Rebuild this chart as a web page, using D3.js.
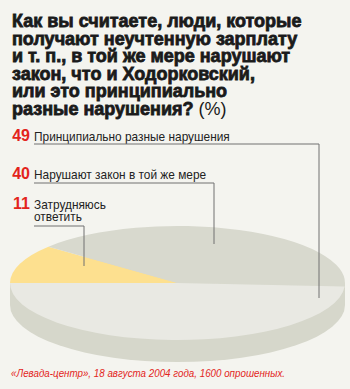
<!DOCTYPE html>
<html><head><meta charset="utf-8">
<script src="https://cdn.jsdelivr.net/npm/d3@7"></script>
<style>
html,body{margin:0;padding:0;background:#f4f4ef;}
svg{display:block;}
</style></head>
<body>
<svg id="c" width="350" height="389"></svg>
<script>
// ---- data ----
const titleLines = ["Как вы считаете, люди, которые","получают неучтенную зарплату","и т. п., в той же мере нарушают","закон, что и Ходорковский,","или это принципиально","разные нарушения?"];
const titleUnit = "(%)";
const categories = ["Принципиально разные нарушения","Нарушают закон в той же мере","Затрудняюсь|ответить"];
const values = [49, 40, 11];
const sliceColors = ["#e9e9e3", "#d8d9ce", "#fde08f"];
const source = "«Левада-центр», 18 августа 2004 года, 1600 опрошенных.";

// ---- layout ----
const svg = d3.select("#c");
svg.append("rect").attr("width",350).attr("height",389).attr("fill","#f4f4ef");

const cx = 177.5, cy = 283, rx = 167.5, ry = 57, depth = 22;

// title
const tt = svg.append("g");
titleLines.forEach((l,i)=>{
  const t = tt.append("text").attr("x",12).attr("y",27+i*17.6)
    .attr("font-family","'Liberation Sans', Arial, sans-serif").attr("font-weight","bold")
    .attr("font-size",18).attr("fill","#1a1a1a").attr("stroke","#1a1a1a").attr("stroke-width",0.8)
    .text(l);
  if(i===titleLines.length-1){
    t.append("tspan").attr("font-weight","normal").attr("stroke","none").text(" "+titleUnit);
  }
});

// pie: side wall
svg.append("ellipse").attr("cx",cx).attr("cy",cy+depth).attr("rx",rx).attr("ry",ry).attr("fill","#d6d7cb");
svg.append("rect").attr("x",cx-rx).attr("y",cy).attr("width",2*rx).attr("height",depth).attr("fill","#d6d7cb");

// top face slices
const pie = d3.pie().sort(null).startAngle(-Math.PI/2).endAngle(3*Math.PI/2);
const order = [2,1,0];
const arcs = pie(order.map(i=>values[i]));
const arc = d3.arc().innerRadius(0).outerRadius(rx);
const face = svg.append("g").attr("transform",`translate(${cx},${cy}) scale(1,${ry/rx})`);
face.selectAll("path").data(arcs).join("path")
  .attr("d",arc).attr("fill",(d,j)=>sliceColors[order[j]]);

// labels and leader lines
const labelY = [141, 179, 209];
const lineY = [144, 183, 226];
const lineX = [319, 214, 84];
const anchorY = [298, 244, 266];
const lab = svg.append("g");
categories.forEach((c,i)=>{
  lab.append("text").attr("x",30).attr("y",labelY[i]).attr("text-anchor","end")
    .attr("font-family","'Liberation Sans', Arial, sans-serif").attr("font-weight","bold")
    .attr("font-size",16).attr("fill","#e3241b").text(values[i]);
  const t = lab.append("text")
    .attr("transform",`translate(34,${labelY[i]}) scale(0.95,1)`)
    .attr("font-family","'Liberation Sans', Arial, sans-serif")
    .attr("font-size",12.5).attr("fill","#222");
  c.split("|").forEach((p,k)=>{
    t.append("tspan").attr("x",0).attr("dy",k?11.7:0).text(p);
  });
  lab.append("path")
    .attr("d",`M34,${lineY[i]}H${lineX[i]}V${anchorY[i]}`)
    .attr("fill","none").attr("stroke","#707070").attr("stroke-width",1);
});

// source
svg.append("text").attr("transform","translate(11,377) scale(0.89,1)")
  .attr("font-family","'Liberation Sans', Arial, sans-serif")
  .attr("font-style","italic").attr("font-size",11).attr("fill","#e3241b").text(source);
</script>
</body></html>
